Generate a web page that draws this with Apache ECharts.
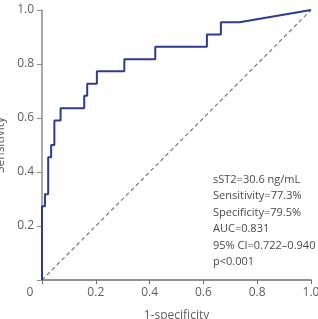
<!DOCTYPE html>
<html>
<head>
<meta charset="utf-8">
<script src="https://cdn.jsdelivr.net/npm/echarts@6/dist/echarts.min.js"></script>
<style>
  html, body { margin: 0; padding: 0; background: #fff; }
  #chart { width: 318px; height: 319px; }
</style>
</head>
<body>
<div id="chart"></div>
<script>
// ROC step vertices (1-specificity where the curve climbs, sensitivity reached there)
var fprSteps = [0, 0.011, 0.023, 0.034, 0.046, 0.069, 0.157, 0.168, 0.204, 0.306, 0.421, 0.613, 0.665];
var tprSteps = [0.273, 0.318, 0.455, 0.5, 0.591, 0.636, 0.682, 0.727, 0.773, 0.818, 0.864, 0.909, 0.955];
// last part of the curve, nearly straight up to (1,1)
var tailFpr = [0.734, 1.0];
var tailTpr = [0.955, 1.0];

var xTicks = ['0', '0.2', '0.4', '0.6', '0.8', '1.0'];
var yTicks = ['0', '0.2', '0.4', '0.6', '0.8', '1.0'];

var notes = [
  'sST2=30.6 ng/mL',
  'Sensitivity=77.3%',
  'Specificity=79.5%',
  'AUC=0.831',
  '95% CI=0.722\u20130.940',
  'p<0.001'
];

// build the stair path from the vertices
var roc = [[0, 0]];
var prev = 0;
for (var i = 0; i < fprSteps.length; i++) {
  roc.push([fprSteps[i], prev]);
  roc.push([fprSteps[i], tprSteps[i]]);
  prev = tprSteps[i];
}
for (var j = 0; j < tailFpr.length; j++) {
  roc.push([tailFpr[j], tailTpr[j]]);
}

var axisColor = '#6e6e6e';
var textColor = '#5e5e5e';
var font = '"Open Sans", "Noto Sans", sans-serif';

var chart = echarts.init(document.getElementById('chart'), null, { renderer: 'canvas' });
chart.setOption({
  animation: false,
  grid: { left: 42, right: 7, top: 10, bottom: 39, containLabel: false, outerBoundsMode: 'none' },
  xAxis: {
    type: 'value', min: 0, max: 1, interval: 0.2,
    name: '1-specificity', nameLocation: 'middle', nameGap: 30,
    nameTextStyle: { color: textColor, fontSize: 12, fontFamily: font },
    axisLine: { lineStyle: { color: axisColor, width: 1.5 } },
    axisTick: { show: true, length: 4, lineStyle: { color: axisColor } },
    splitLine: { show: false },
    axisLabel: {
      color: textColor, fontSize: 12, fontFamily: font, margin: 7,
      formatter: function (v) {
        var k = Math.round(v * 5);
        return k === 0 ? '{z|' + xTicks[0] + '}' : xTicks[k];
      },
      rich: { z: { color: textColor, fontSize: 12, fontFamily: font, padding: [0, 24, 0, 0] } }
    }
  },
  yAxis: {
    type: 'value', min: 0, max: 1, interval: 0.2,
    name: 'Sensitivity', nameLocation: 'middle', nameGap: 32, nameRotate: 90,
    nameTextStyle: { color: textColor, fontSize: 12, fontFamily: font },
    axisLine: { show: true, lineStyle: { color: '#8c8c8c', width: 1.5 } },
    axisTick: { show: true, length: 5, lineStyle: { color: '#8c8c8c' } },
    splitLine: { show: false },
    axisLabel: {
      color: textColor, fontSize: 12, fontFamily: font, margin: 8,
      formatter: function (v) {
        var k = Math.round(v * 5);
        return k === 0 ? '' : yTicks[k];
      }
    }
  },
  series: [
    {
      type: 'line', data: [[0, 0], [1, 1]], symbol: 'none', silent: true,
      lineStyle: { color: '#7a7a7a', width: 1.2, type: [4, 3] }
    },
    {
      type: 'line', data: roc, symbol: 'none',
      lineStyle: { color: '#2e3b8f', width: 2 }
    }
  ],
  graphic: notes.map(function (t, i) {
    return {
      type: 'text', left: 213, top: 174 + i * 16.5,
      style: { text: t, fill: '#4a4a4a', fontSize: 11, fontFamily: font }
    };
  })
});
</script>
</body>
</html>
